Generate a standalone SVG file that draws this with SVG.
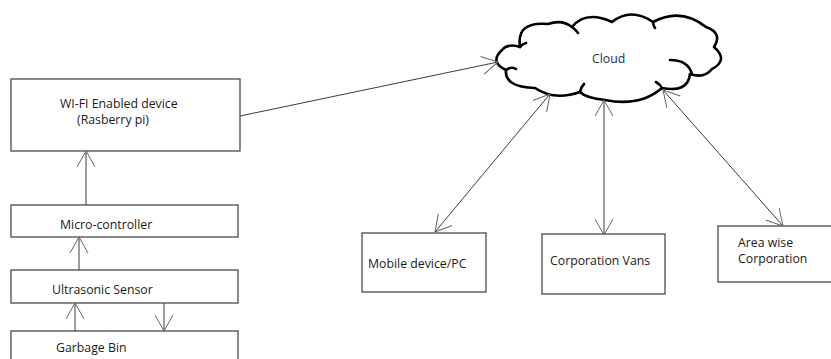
<svg xmlns="http://www.w3.org/2000/svg" width="831" height="359" viewBox="0 0 831 359">
<style>
.box{fill:#fff;stroke:#4a4a4a;stroke-width:1.3}
.lbl{font-family:"Open Sans","Liberation Sans",sans-serif;font-size:12.3px;fill:#1a1a1a}
.con{fill:none;stroke:#3a3a3a;stroke-width:1}
.cloud{fill:#fff;stroke:#000;stroke-width:2.6;stroke-linejoin:round;stroke-linecap:round}
</style>
<defs>
<marker id="ah" viewBox="0 0 16 20" refX="16" refY="10" markerWidth="16" markerHeight="20" markerUnits="userSpaceOnUse" orient="auto-start-reverse">
<path d="M0,1 L16,10 L0,19" fill="none" stroke="#666" stroke-width="1"/>
</marker>
</defs>
<rect width="831" height="359" fill="#fff"/>
<g id="wifi">
<rect class="box" x="11" y="79" width="229" height="72"/>
<text class="lbl" x="60" y="108">WI-FI Enabled device</text>
<text class="lbl" x="77" y="124">(Rasberry pi)</text>
</g>
<g id="micro">
<rect class="box" x="11" y="205" width="227" height="32"/>
<text class="lbl" x="60" y="229">Micro-controller</text>
</g>
<g id="ultrasonic">
<rect class="box" x="11" y="270" width="227" height="33"/>
<text class="lbl" x="52" y="294">Ultrasonic Sensor</text>
</g>
<g id="garbage">
<rect class="box" x="11" y="331" width="227" height="40"/>
<text class="lbl" x="56" y="352">Garbage Bin</text>
</g>
<g id="cloud">
<path class="cloud" d="M520 47 Q516 21 548 24 Q562 19 572 27 Q586 10 612 22 Q631 7 653 22 Q681 7 706 27 Q723 33 714 47 Q729 60 712 69 Q704 79 690 74 Q688 93 662 88 Q640 107 605 100 Q586 98 580 92 Q554 101 535 88 Q504 87 506 70 Q489 62 502 50 Q508 43 520 47 Z"/>
<path class="cloud" d="M670 60 Q688 60 692 74 M506 70 Q512 66 516 69 M520 47 Q522 44 526 43 M572 27 Q576 30 578 33 M653 22 Q653 25 655 28 M662 88 Q660 84 656 82 M580 92 Q581 87 584 84"/>
<text class="lbl" x="592" y="63" style="fill:#1f3056">Cloud</text>
</g>
<g id="mobile">
<rect class="box" x="362" y="233" width="124" height="59"/>
<text class="lbl" x="368" y="268">Mobile device/PC</text>
</g>
<g id="vans">
<rect class="box" x="542" y="234" width="123" height="60"/>
<text class="lbl" x="550" y="265">Corporation Vans</text>
</g>
<g id="area">
<rect class="box" x="718" y="226" width="114" height="56"/>
<text class="lbl" x="738" y="247">Area wise</text>
<text class="lbl" x="738" y="263">Corporation</text>
</g>
<g id="connectors">
<line class="con" x1="86" y1="205" x2="86" y2="151" marker-end="url(#ah)"/>
<line class="con" x1="79" y1="270" x2="79" y2="237" marker-end="url(#ah)"/>
<line class="con" x1="75" y1="331" x2="75" y2="303" marker-end="url(#ah)"/>
<line class="con" x1="164" y1="303" x2="164" y2="331" marker-end="url(#ah)"/>
<line class="con" x1="240" y1="116" x2="498" y2="62" marker-end="url(#ah)"/>
<line class="con" x1="550" y1="94" x2="435" y2="232" marker-start="url(#ah)" marker-end="url(#ah)"/>
<line class="con" x1="604" y1="100" x2="604" y2="235" marker-start="url(#ah)" marker-end="url(#ah)"/>
<line class="con" x1="663" y1="90" x2="783" y2="226" marker-start="url(#ah)" marker-end="url(#ah)"/>
</g>
</svg>
